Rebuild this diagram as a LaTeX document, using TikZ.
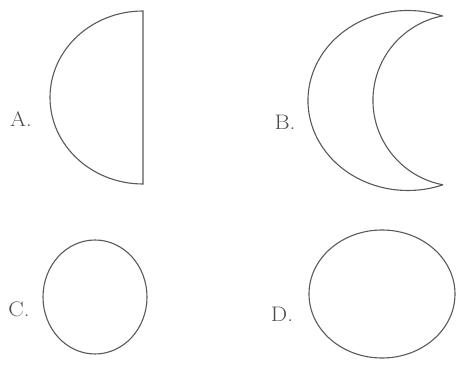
\documentclass[tikz,border=0pt]{standalone}
\usepackage{tikz}
\usetikzlibrary{positioning}
\tikzset{
  shape line/.style={line width=1.1pt, draw=black!65},
  choice label/.style={text=black!70, font=\fontsize{21}{25}\selectfont, inner sep=0pt, xscale=1.1}
}
\begin{document}
\begin{tikzpicture}[x=1pt,y=1pt]
            \useasboundingbox (0,0) rectangle (459,365);
            % A: half disc
            \coordinate (Atop) at (143,354);
            \draw[shape line] (Atop) arc[start angle=90, end angle=270, x radius=93, y radius=86.5] -- cycle;
            % B: crescent
            \coordinate (Btip) at (443,348.8);
            \coordinate (Bbot) at (443,180.2);
            \draw[shape line, line join=miter] (Btip) arc[start angle=69.5, end angle=290.5, x radius=100, y radius=90]
                (Bbot) arc[start angle=259.3, end angle=100.7, radius=86];
            % C and D
            \coordinate (C) at (95,68);
            \coordinate (D) at (382,71);
            \draw[shape line] (C) ellipse[x radius=52, y radius=57];
            \draw[shape line] (D) ellipse[x radius=73, y radius=64];
            % labels
            \node[choice label] (la) at (21,246) {A.};
            \node[choice label] (lb) at (285,243) {B.};
            \node[choice label] (lc) at (19,56) {C.};
            \node[choice label] (ld) at (282,51) {D.};
        \end{tikzpicture}
\end{document}
